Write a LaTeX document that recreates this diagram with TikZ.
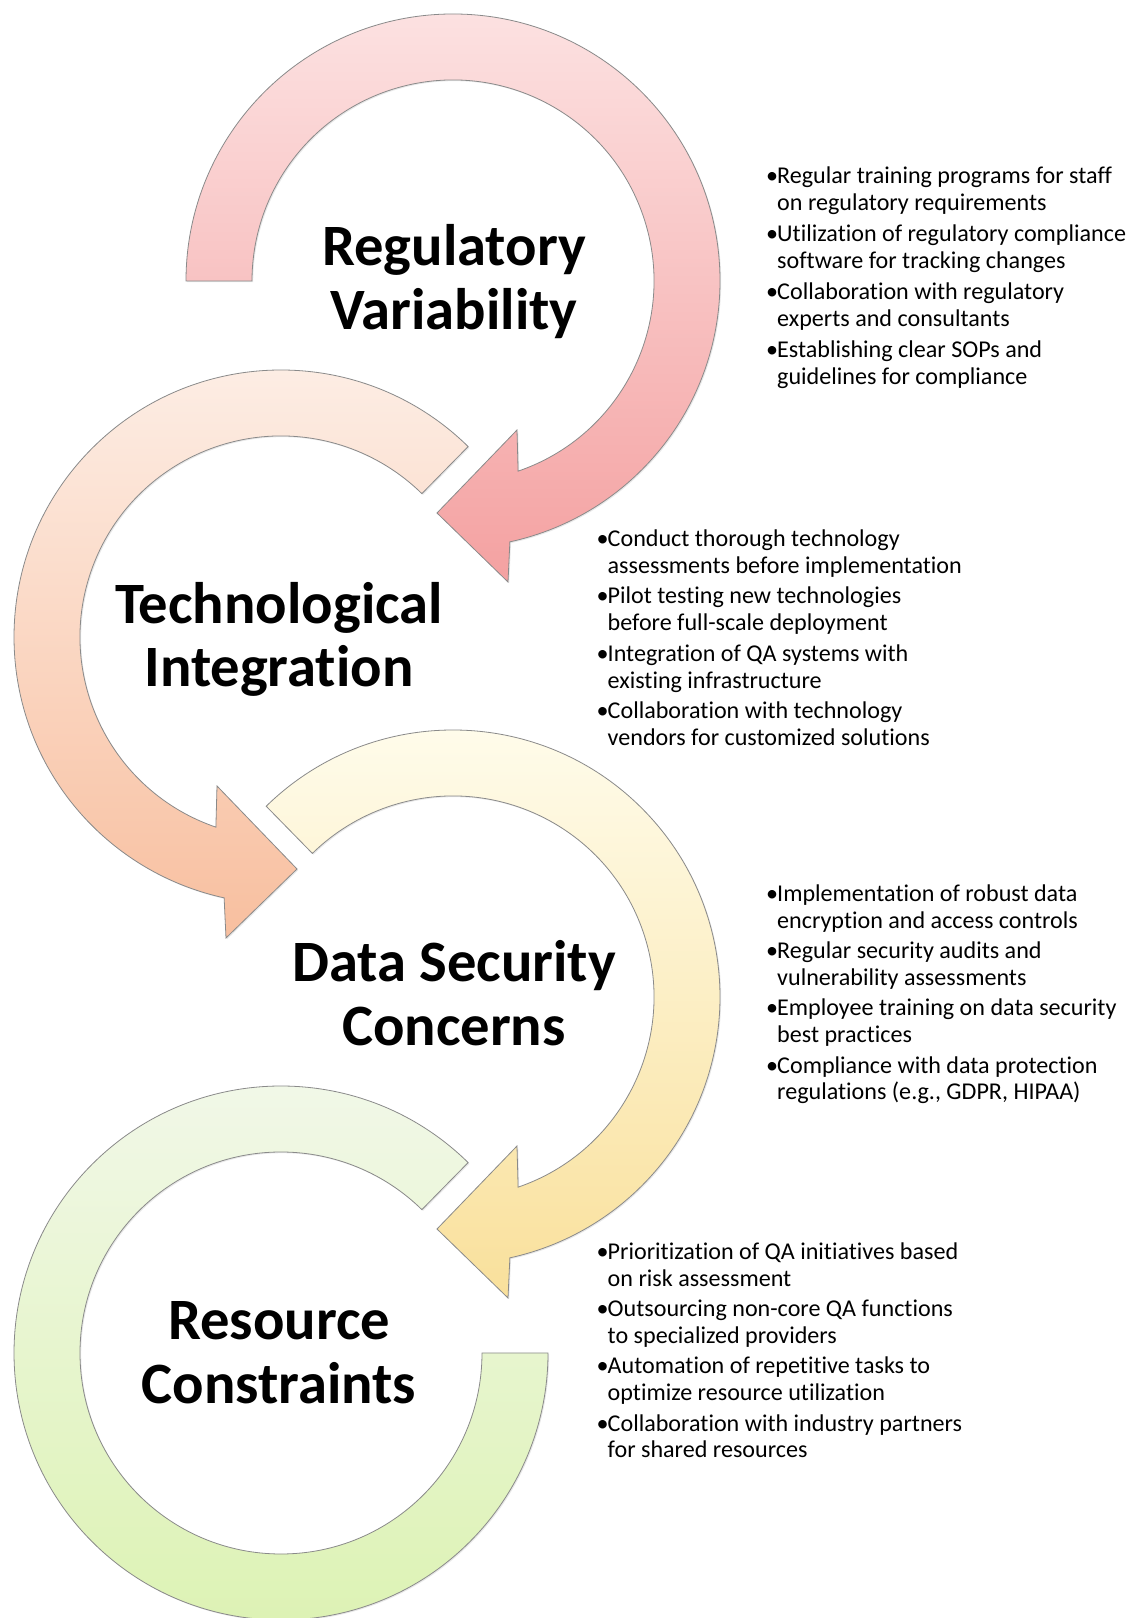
\documentclass[tikz,border=0pt]{standalone}
\usepackage{fontspec}
\setmainfont{Carlito}[Ligatures=NoCommon]
\usetikzlibrary{shadows}

\definecolor{redtop}{HTML}{FCE1E1}
\definecolor{redbot}{HTML}{F4A1A1}
\definecolor{peachtop}{HTML}{FDEFE7}
\definecolor{peachbot}{HTML}{F8BF9F}
\definecolor{yellowtop}{HTML}{FFFDEE}
\definecolor{yellowbot}{HTML}{F9E09B}
\definecolor{greentop}{HTML}{F2F8EA}
\definecolor{greenbot}{HTML}{DCF2B2}
\definecolor{edgegray}{HTML}{8A8A8A}

\tikzset{
  loop arrow/.style={draw=edgegray, line width=0.8pt, line join=miter,
    drop shadow={shadow xshift=1.2pt, shadow yshift=-1.2pt, opacity=0.18}},
  title/.style={inner sep=0pt, anchor=base, font=\fontsize{58.6}{64}\selectfont\bfseries},
  bul/.style={inner sep=0pt, anchor=base west, font=\fontsize{24.1}{26.8}\selectfont},
}

% curved arrow around the origin: tail cut at angle #1, head at the lower right
\newcommand\curvedarrowpath[1]{(#1:267pt) arc[start angle=#1, end angle=-77.7, radius=267pt]
  -- (55pt,-301pt) -- (-16pt,-232pt) -- (64pt,-149pt)
  -- (-71.1:201pt) arc[start angle=-71.1, end angle=#1, radius=201pt] -- cycle}

% open ring without head
\newcommand\openringpath[1]{(#1:267pt) arc[start angle=#1, end angle=-180, radius=267pt]
  -- (-180:201pt) arc[start angle=-180, end angle=#1, radius=201pt] -- cycle}

% one bullet of two lines: name, x, baseline (measured from the top), first line, second line
\newcommand\bulletlines[5]{%
  \node[bul] (#1a) at (#2, 1618-#3) {\makebox[11pt][l]{•}#4};
  \node[bul] (#1b) at (#2+11, 1618-#3-26.8) {#5};}

\begin{document}
\begin{tikzpicture}[x=1pt, y=1pt]
\useasboundingbox (0,0) rectangle (1132,1618);
\fill[white] (0,0) rectangle (1132,1618);

% the four circular arrows
\begin{scope}[shift={(453,1337)}]
  \path[loop arrow, top color=redtop, bottom color=redbot] \curvedarrowpath{180};
\end{scope}
\begin{scope}[shift={(281,981)}, xscale=-1]
  \path[loop arrow, top color=peachtop, bottom color=peachbot] \curvedarrowpath{134.5};
\end{scope}
\begin{scope}[shift={(453,621)}]
  \path[loop arrow, top color=yellowtop, bottom color=yellowbot] \curvedarrowpath{134.4};
\end{scope}
\begin{scope}[shift={(281,265)}, xscale=-1]
  \path[loop arrow, top color=greentop, bottom color=greenbot] \openringpath{134.5};
\end{scope}

% titles
\node[title] (reg1) at (454, 1618-266) {Regulatory};
\node[title] (reg2) at (454, 1618-330) {Variability};
\node[title] (tec1) at (279, 1618-624) {Technological};
\node[title] (tec2) at (279, 1618-687) {Integration};
\node[title] (dat1) at (454, 1618-982) {Data Security};
\node[title] (dat2) at (454, 1618-1046) {Concerns};
\node[title] (res1) at (279, 1618-1340) {Resource};
\node[title] (res2) at (279, 1618-1404) {Constraints};

% measures for regulatory variability
\bulletlines{ra}{766}{184}{Regular training programs for staff}{on regulatory requirements}
\bulletlines{rb}{766}{241.8}{Utilization of regulatory compliance}{software for tracking changes}
\bulletlines{rc}{766}{299.6}{Collaboration with regulatory}{experts and consultants}
\bulletlines{rd}{766}{357.4}{Establishing clear SOPs and}{guidelines for compliance}

% measures for technological integration
\bulletlines{ta}{596.5}{546.5}{Conduct thorough technology}{assessments before implementation}
\bulletlines{tb}{596.5}{604}{Pilot testing new technologies}{before full-scale deployment}
\bulletlines{tc}{596.5}{661.5}{Integration of QA systems with}{existing infrastructure}
\bulletlines{td}{596.5}{719}{Collaboration with technology}{vendors for customized solutions}

% measures for data security concerns
\bulletlines{da}{766}{901.5}{Implementation of robust data}{encryption and access controls}
\bulletlines{db}{766}{958.7}{Regular security audits and}{vulnerability assessments}
\bulletlines{dc}{766}{1015.9}{Employee training on data security}{best practices}
\bulletlines{dd}{766}{1073.1}{Compliance with data protection}{regulations (e.g., GDPR, HIPAA)}

% measures for resource constraints
\bulletlines{sa}{596.5}{1259.5}{Prioritization of QA initiatives based}{on risk assessment}
\bulletlines{sb}{596.5}{1316.7}{Outsourcing non-core QA functions}{to specialized providers}
\bulletlines{sc}{596.5}{1373.9}{Automation of repetitive tasks to}{optimize resource utilization}
\bulletlines{sd}{596.5}{1431.1}{Collaboration with industry partners}{for shared resources}
\end{tikzpicture}
\end{document}
